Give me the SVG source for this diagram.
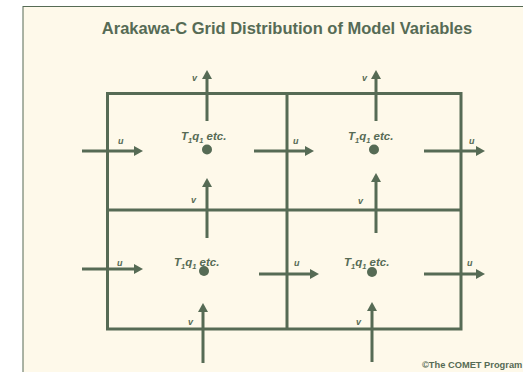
<svg xmlns="http://www.w3.org/2000/svg" width="523" height="372" viewBox="0 0 523 372">
<defs>
<style>
.ln{stroke:#566b55;stroke-width:3;fill:none}
.ar{stroke:#566b55;stroke-width:3;fill:none;marker-end:url(#ah)}
.lbl{font-family:"Liberation Sans",Arial,sans-serif;font-style:italic;font-weight:bold;font-size:9px;fill:#566b55}
.var{font-family:"Liberation Sans",Arial,sans-serif;font-style:italic;font-weight:bold;font-size:11.5px;fill:#566b55}
.dot{fill:#566b55}
</style>
<marker id="ah" markerUnits="userSpaceOnUse" markerWidth="9" markerHeight="10" refX="0" refY="5" orient="auto">
<path d="M0,0 L9,5 L0,10 z" fill="#566b55"/>
</marker>
</defs>
<rect x="0" y="0" width="523" height="372" fill="#ffffff"/>
<rect x="23" y="6.5" width="510" height="380" fill="#fef9ea" stroke="#566b55" stroke-width="1"/>
<text x="287" y="34" text-anchor="middle" font-family="Liberation Sans,Arial,sans-serif" font-weight="bold" font-size="16.5px" fill="#566b55">Arakawa-C Grid Distribution of Model Variables</text>
<g id="grid">
<rect class="ln" x="107.5" y="93.5" width="353.5" height="235.5"/>
<line class="ln" x1="287" y1="93.5" x2="287" y2="329"/>
<line class="ln" x1="107.5" y1="210" x2="461" y2="210"/>
</g>
<g id="connectors">
<line class="ar" x1="207" y1="121" x2="207" y2="79"/>
<line class="ar" x1="376" y1="121" x2="376" y2="79"/>
<line class="ar" x1="82" y1="151" x2="134" y2="151"/>
<line class="ar" x1="254" y1="151" x2="305" y2="151"/>
<line class="ar" x1="424" y1="151" x2="476" y2="151"/>
<line class="ar" x1="207" y1="238" x2="207" y2="187"/>
<line class="ar" x1="376" y1="233" x2="376" y2="182"/>
<line class="ar" x1="82" y1="269" x2="134" y2="269"/>
<line class="ar" x1="259" y1="274" x2="310" y2="274"/>
<line class="ar" x1="424" y1="274" x2="476" y2="274"/>
<line class="ar" x1="203" y1="363" x2="203" y2="312"/>
<line class="ar" x1="372" y1="362" x2="372" y2="311"/>
</g>
<g id="labels">
<text class="lbl" x="192" y="81">v</text>
<text class="lbl" x="362" y="81">v</text>
<text class="lbl" x="118" y="144">u</text>
<text class="lbl" x="293" y="144">u</text>
<text class="lbl" x="469" y="144">u</text>
<text class="lbl" x="191" y="203">v</text>
<text class="lbl" x="358" y="204">v</text>
<text class="lbl" x="117" y="266">u</text>
<text class="lbl" x="294" y="266">u</text>
<text class="lbl" x="467" y="266" font-weight="normal">u</text>
<text class="lbl" x="188" y="325">v</text>
<text class="lbl" x="356" y="325">v</text>
</g>
<g id="cell-1">
<text class="var" x="181" y="140">T<tspan font-size="7.5px" dy="3">1</tspan><tspan dy="-3">q</tspan><tspan font-size="7.5px" dy="3">1</tspan><tspan dy="-3"> etc.</tspan></text>
<circle class="dot" cx="207" cy="149.5" r="5"/>
</g>
<g id="cell-2">
<text class="var" x="348" y="140">T<tspan font-size="7.5px" dy="3">1</tspan><tspan dy="-3">q</tspan><tspan font-size="7.5px" dy="3">1</tspan><tspan dy="-3"> etc.</tspan></text>
<circle class="dot" cx="374" cy="149.5" r="5"/>
</g>
<g id="cell-3">
<text class="var" x="174" y="266">T<tspan font-size="7.5px" dy="3">1</tspan><tspan dy="-3">q</tspan><tspan font-size="7.5px" dy="3">1</tspan><tspan dy="-3"> etc.</tspan></text>
<circle class="dot" cx="204" cy="271" r="5"/>
</g>
<g id="cell-4">
<text class="var" x="344" y="266">T<tspan font-size="7.5px" dy="3">1</tspan><tspan dy="-3">q</tspan><tspan font-size="7.5px" dy="3">1</tspan><tspan dy="-3"> etc.</tspan></text>
<circle class="dot" cx="372" cy="272" r="5"/>
</g>
<text x="422" y="368" font-family="Liberation Sans,Arial,sans-serif" font-weight="bold" font-size="9.3px" fill="#566b55">©The COMET Program</text>
</svg>
